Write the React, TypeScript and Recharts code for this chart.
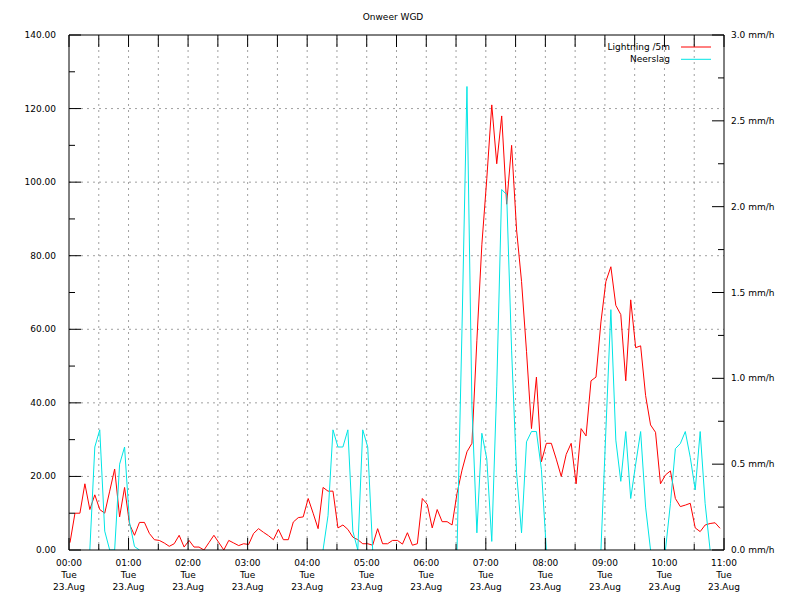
import React from 'react';
import { LineChart, Line, XAxis, YAxis, ReferenceLine } from 'recharts';

// sample times, minutes after 00:00 (5-minute samples)
const times: number[] = Array.from({ length: 132 }, (_, i) => 1 + 5 * i);

// Lightning /5m (left axis)
const lightning: number[] = [
  2, 10, 10, 18, 11, 15, 11, 10, 16, 22,
  9, 17, 7, 4, 7.5, 7.5, 4.5, 2.8, 2.6, 1.9,
  1, 1.7, 4, 0.8, 2.6, 0.8, 0.8, 0, 2, 4,
  2, 0, 2.6, 1.9, 1.2, 1.7, 1.5, 4.5, 5.8, 4.8,
  3.9, 2.8, 5.6, 2.8, 2.8, 7.6, 8.8, 9, 14, 10,
  5.8, 17, 16, 16, 6, 6.8, 5.6, 3.5, 2.8, 1.7,
  1.7, 1.3, 5.8, 1.7, 1.7, 2.6, 2.6, 1.6, 4.7, 1.3,
  1.7, 14, 12.4, 6, 11, 7.7, 7.7, 6.8, 15.4, 21.7,
  26.7, 29, 57, 83, 101, 121, 105, 118, 94, 110,
  87, 73, 54, 33, 47, 24, 29, 29, 24.7, 20,
  26, 29, 18, 33, 31, 46, 47, 62, 73, 77,
  66.5, 64, 46, 68, 55, 55.5, 42, 34, 32, 18,
  20.4, 21.5, 14, 11.8, 12.2, 12.7, 6, 5, 6.8, 7.2,
  7.4, 5.9,
];

// Neerslag mm/h (right axis)
const neerslag: (number | null)[] = [
  null, null, null, null, 0, 0.6, 0.7, 0.11, 0, 0,
  0.5, 0.6, 0.16, 0.02, 0, null, null, null, null, null,
  null, null, null, null, null, null, null, null, null, null,
  null, null, null, null, null, null, null, null, null, null,
  null, null, null, null, null, null, null, null, null, null,
  null, 0, 0.2, 0.7, 0.6, 0.6, 0.7, 0.11, 0, 0.7,
  0.6, 0, null, null, null, null, null, null, null, null,
  null, null, null, null, null, null, null, null, 0, 1.29,
  2.7, 0.84, 0.1, 0.68, 0.53, 0.05, 0.95, 2.1, 2.07, 1.16,
  0.45, 0.1, 0.63, 0.69, 0.69, 0.47, 0, null, null, null,
  null, null, null, null, null, null, null, 0, 0.7, 1.4,
  0.64, 0.4, 0.69, 0.3, 0.5, 0.69, 0.25, 0, null, null,
  0, 0.27, 0.59, 0.62, 0.69, 0.54, 0.35, 0.69, 0.27, 0,
  null, null,
];

const xTicks = [0, 30, 60, 90, 120, 150, 180, 210, 240, 270, 300, 330, 360, 390, 420, 450, 480, 510, 540, 570, 600, 630, 660];
const hourLabels = ['00:00', '01:00', '02:00', '03:00', '04:00', '05:00', '06:00', '07:00', '08:00', '09:00', '10:00', '11:00'];
const dayLabel = 'Tue';
const dateLabel = '23.Aug';
const leftTicks = [0, 10, 20, 30, 40, 50, 60, 70, 80, 90, 100, 110, 120, 130, 140];
const rightTicks = [0, 0.25, 0.5, 0.75, 1, 1.25, 1.5, 1.75, 2, 2.25, 2.5, 2.75, 3];
const gridY = [20, 40, 60, 80, 100, 120];
const gridX = [30, 60, 90, 120, 150, 180, 210, 240, 270, 300, 330, 360, 390, 420, 450, 480, 510, 540, 570, 600, 630];

const series = [
  { key: 'lightning', name: 'Lightning /5m', color: '#ff0000' },
  { key: 'neerslag', name: 'Neerslag', color: '#00e5e5' },
];

const data = times.map((t, i) => ({ t, lightning: lightning[i], neerslag: neerslag[i] }));

const FONT = '"DejaVu Sans", sans-serif';
const FS = 9;

const LeftTick = (p: any) => {
  const { x, y, payload } = p;
  const v = payload.value as number;
  const major = v % 20 === 0;
  return (
    <g>
      <line x1={x} y1={y} x2={x + (major ? 12 : 6)} y2={y} stroke="#000" strokeWidth={1} />
      {major && (
        <text x={x - 13} y={y + 3} textAnchor="end" fontSize={FS} fontFamily={FONT} fill="#000">
          {v.toFixed(2)}
        </text>
      )}
    </g>
  );
};

const RightTick = (p: any) => {
  const { x, y, payload } = p;
  const v = payload.value as number;
  const major = Math.abs(v * 2 - Math.round(v * 2)) < 1e-9;
  return (
    <g>
      <line x1={x} y1={y} x2={x - (major ? 12 : 6)} y2={y} stroke="#000" strokeWidth={1} />
      {major && (
        <text x={x + 7} y={y + 3} textAnchor="start" fontSize={FS} fontFamily={FONT} fill="#000">
          {`${v.toFixed(1)} mm/h`}
        </text>
      )}
    </g>
  );
};

const BottomTick = (p: any) => {
  const { x, y, payload } = p;
  const v = payload.value as number;
  const major = v % 60 === 0;
  return (
    <g>
      <line x1={x} y1={y} x2={x} y2={y - (major ? 12 : 6)} stroke="#000" strokeWidth={1} />
      {major && (
        <text textAnchor="middle" fontSize={FS} fontFamily={FONT} fill="#000">
          <tspan x={x} y={y + 16}>{hourLabels[v / 60]}</tspan>
          <tspan x={x} y={y + 28}>{dayLabel}</tspan>
          <tspan x={x} y={y + 40}>{dateLabel}</tspan>
        </text>
      )}
    </g>
  );
};

const TopTick = (p: any) => {
  const { x, y } = p;
  return <line x1={x} y1={y} x2={x} y2={y + 12} stroke="#000" strokeWidth={1} />;
};

export default function App() {
  return (
    <div style={{ position: 'absolute', left: 0, top: 0, width: 800, height: 600, background: '#fff' }}>
      <LineChart width={800} height={600} data={data} margin={{ top: 30, right: 6, bottom: 6, left: 9 }}>
        {gridY.map((v) => (
          <ReferenceLine key={'gy' + v} xAxisId="bottom" yAxisId="left" y={v} stroke="#a0a0a0" strokeDasharray="2 4" />
        ))}
        {gridX.map((v) => (
          <ReferenceLine key={'gx' + v} xAxisId="bottom" yAxisId="left" x={v} stroke="#a0a0a0" strokeDasharray="2 4" />
        ))}
        <Line
          xAxisId="bottom"
          yAxisId="left"
          type="linear"
          dataKey="lightning"
          name={series[0].name}
          stroke={series[0].color}
          strokeWidth={1}
          dot={false}
          activeDot={false}
          isAnimationActive={false}
        />
        <Line
          xAxisId="bottom"
          yAxisId="right"
          type="linear"
          dataKey="neerslag"
          name={series[1].name}
          stroke={series[1].color}
          strokeWidth={1}
          dot={false}
          activeDot={false}
          connectNulls={false}
          isAnimationActive={false}
        />
        <XAxis
          xAxisId="bottom"
          dataKey="t"
          type="number"
          domain={[0, 660]}
          ticks={xTicks}
          interval={0}
          tick={(p: any) => <BottomTick {...p} />}
          tickLine={false}
          tickSize={0}
          tickMargin={0}
          height={44}
          axisLine={{ stroke: '#000' }}
          allowDataOverflow
        />
        <XAxis
          xAxisId="top"
          orientation="top"
          dataKey="t"
          type="number"
          domain={[0, 660]}
          ticks={xTicks}
          interval={0}
          tick={(p: any) => <TopTick {...p} />}
          tickLine={false}
          tickSize={0}
          tickMargin={0}
          height={5}
          axisLine={{ stroke: '#000' }}
          allowDataOverflow
        />
        <YAxis
          yAxisId="left"
          type="number"
          domain={[0, 140]}
          ticks={leftTicks}
          interval={0}
          tick={(p: any) => <LeftTick {...p} />}
          tickLine={false}
          tickSize={0}
          tickMargin={0}
          width={60}
          axisLine={{ stroke: '#000' }}
          allowDataOverflow
        />
        <YAxis
          yAxisId="right"
          orientation="right"
          type="number"
          domain={[0, 3]}
          ticks={rightTicks}
          interval={0}
          tick={(p: any) => <RightTick {...p} />}
          tickLine={false}
          tickSize={0}
          tickMargin={0}
          width={70}
          axisLine={{ stroke: '#000' }}
          allowDataOverflow
        />
      </LineChart>
      <svg width={800} height={600} style={{ position: 'absolute', left: 0, top: 0, pointerEvents: 'none' }}>
        <text x={393} y={20} textAnchor="middle" fontSize={FS} fontFamily={FONT} fill="#000">
          Onweer WGD
        </text>
        {series.map((s, i) => (
          <g key={s.key}>
            <text x={670} y={49.5 + i * 12.3} textAnchor="end" fontSize={FS} fontFamily={FONT} fill="#000">
              {s.name}
            </text>
            <line x1={681} y1={47 + i * 12.3} x2={711} y2={47 + i * 12.3} stroke={s.color} strokeWidth={1} />
          </g>
        ))}
      </svg>
    </div>
  );
}
